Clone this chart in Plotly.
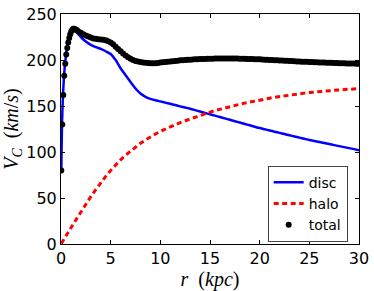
import plotly.graph_objects as go

# radius grid for the component curves (kpc)
r_comp = [0.03, 0.1, 0.2, 0.3, 0.4, 0.5, 0.6, 0.7, 0.8, 0.9, 1.0, 1.2, 1.4, 1.6, 1.8,
          2.0, 2.5, 3.0, 3.5, 4.0, 4.5, 5.0, 5.5, 6.0, 6.5, 7.0, 7.5, 8.0, 8.5, 9.0, 9.5,
          10.0, 10.5, 11.0, 11.5, 12.0, 12.5, 13.0, 13.5, 14.0, 14.5, 15.0, 15.5, 16.0,
          16.5, 17.0, 17.5, 18.0, 18.5, 19.0, 19.5, 20.0, 20.5, 21.0, 21.5, 22.0, 22.5,
          23.0, 23.5, 24.0, 24.5, 25.0, 25.5, 26.0, 26.5, 27.0, 27.5, 28.0, 28.5, 29.0,
          29.5, 30.0]

v_disc = [80, 130, 162, 182, 195, 205, 213, 219, 224, 228, 231, 233, 232, 230, 227.5,
          225, 220, 216.5, 214, 212, 209.5, 206.5, 200, 191, 183.5, 176, 169, 163.5,
          160, 157.8, 156.3, 155, 153.7, 152.4, 151, 149.6, 148.3, 147, 145.5, 144,
          142.5, 141, 139.5, 138, 136.5, 135, 133.5, 132, 130.5, 129, 127.5, 126, 124.7,
          123.4, 122.1, 120.8, 119.5, 118.2, 116.9, 115.6, 114.3, 113, 111.9, 110.8,
          109.7, 108.6, 107.5, 106.4, 105.3, 104.2, 103.1, 102]

v_halo = [0.5, 1.8, 3.5, 5.3, 7, 8.8, 10.5, 12.3, 14, 15.8, 17.5, 21, 24.5, 28, 31.5,
          35, 43.5, 51.5, 59, 66.5, 73.5, 80, 86, 91.5, 96.5, 101, 105.5, 109.5, 113,
          116.5, 119.5, 122.5, 125, 127.5, 130, 132, 134, 136, 138, 140, 141.7, 143.3,
          145, 146.5, 148, 149.3, 150.6, 151.9, 153.1, 154.3, 155.4, 156.5, 157.5, 158.5,
          159.4, 160.3, 161.1, 161.9, 162.6, 163.3, 164, 164.6, 165.2, 165.7, 166.2,
          166.7, 167.1, 167.5, 167.9, 168.2, 168.5, 168.8]

# radius grid for the total curve (kpc)
r_total = [0.03, 0.13, 0.23, 0.33, 0.43, 0.53, 0.63, 0.73, 0.83, 0.93, 1.03, 1.13, 1.23,
           1.33, 1.43, 1.53, 1.63, 1.75, 2.0, 2.25, 2.5, 2.75, 3.0, 3.25, 3.5, 3.75, 4.0,
           4.25, 4.5, 4.75, 5.0, 5.25, 5.5, 5.75, 6.0, 6.25, 6.5, 6.75, 7.0, 7.25, 7.5,
           7.75, 8.0, 8.25, 8.5, 8.75, 9.0, 9.25, 9.5, 9.75, 10.0, 10.25, 10.5, 10.75,
           11.0, 11.25, 11.5, 11.75, 12.0, 12.25, 12.5, 12.75, 13.0, 13.25, 13.5, 13.75,
           14.0, 14.25, 14.5, 14.75, 15.0, 15.25, 15.5, 15.75, 16.0, 16.25, 16.5, 16.75,
           17.0, 17.25, 17.5, 17.75, 18.0, 18.25, 18.5, 18.75, 19.0, 19.25, 19.5, 19.75,
           20.0, 20.25, 20.5, 20.75, 21.0, 21.25, 21.5, 21.75, 22.0, 22.25, 22.5, 22.75,
           23.0, 23.25, 23.5, 23.75, 24.0, 24.25, 24.5, 24.75, 25.0, 25.25, 25.5, 25.75,
           26.0, 26.25, 26.5, 26.75, 27.0, 27.25, 27.5, 27.75, 28.0, 28.25, 28.5, 28.75,
           29.0, 29.25, 29.5, 29.75, 30.0]

v_total = [80, 130, 162, 183, 196, 206, 213, 219, 224, 228, 231, 233, 234, 234, 233.5,
           233, 232, 231, 229.5, 228, 226.5, 225.5, 224.5, 223.5, 223, 222.5, 222.3, 222,
           221.5, 220.5, 219, 217, 214.5, 212, 209.5, 207, 205, 203, 201.3, 200, 199,
           198.3, 197.8, 197.3, 197, 196.7, 196.5, 196.4, 196.5, 196.8, 197.2, 197.5,
           197.8, 198.1, 198.4, 198.7, 199, 199.3, 199.6, 199.8, 200, 200.2, 200.4, 200.6,
           200.7, 200.9, 201, 201.1, 201.2, 201.3, 201.4, 201.4, 201.5, 201.5, 201.6,
           201.6, 201.6, 201.6, 201.6, 201.6, 201.5, 201.5, 201.4, 201.4, 201.3, 201.2,
           201.1, 201, 200.9, 200.8, 200.7, 200.6, 200.4, 200.3, 200.1, 200, 199.8, 199.7,
           199.5, 199.4, 199.2, 199.1, 198.9, 198.8, 198.6, 198.5, 198.3, 198.2, 198.1,
           198, 197.8, 197.7, 197.6, 197.5, 197.4, 197.3, 197.2, 197.1, 197, 196.9, 196.8,
           196.7, 196.6, 196.5, 196.4, 196.3, 196.2, 196.2, 196.1, 196, 196]

x_ticks = [0, 5, 10, 15, 20, 25, 30]
y_ticks = [0, 50, 100, 150, 200, 250]

fig = go.Figure()
fig.add_trace(go.Scatter(x=r_comp, y=v_disc, mode="lines", name="disc",
                         line=dict(color="#0000ff", width=2.5, shape="spline", smoothing=0.6)))
fig.add_trace(go.Scatter(x=r_comp, y=v_halo, mode="lines", name="halo",
                         line=dict(color="#ff0000", width=3, dash="5px,3.5px")))
fig.add_trace(go.Scatter(x=r_total, y=v_total, mode="markers", name="total",
                         marker=dict(color="black", size=6, line=dict(width=0))))

axis_common = dict(showline=True, linecolor="black", linewidth=1, mirror="allticks",
                   ticks="inside", ticklen=4, tickcolor="black", showgrid=False,
                   zeroline=False, automargin=False,
                   tickfont=dict(family="DejaVu Sans", size=16, color="black"))

fig.update_layout(
    width=374, height=291,
    margin=dict(l=61, r=15, t=14, b=47),
    paper_bgcolor="white", plot_bgcolor="white",
    showlegend=True,
    legend=dict(x=0.962, y=0.01, xanchor="right", yanchor="bottom",
                bgcolor="white", bordercolor="#444", borderwidth=1, itemwidth=30,
                font=dict(family="DejaVu Sans", size=14, color="black")),
    xaxis=dict(range=[0, 30], tickvals=x_ticks,
               title=dict(text="<i>r</i>  (<i>kpc</i>)",
                          font=dict(family="Liberation Serif", size=20, color="black")),
               **axis_common),
    yaxis=dict(range=[0, 250], tickvals=y_ticks,
               title=dict(text="<i>V<sub>C</sub></i>  (<i>km</i>/<i>s</i>)",
                          font=dict(family="Liberation Serif", size=20, color="black")),
               **axis_common),
)

fig.write_html("out.html", config={"displayModeBar": False},
               post_script="document.body.style.margin='0px';document.body.style.padding='0px';")
